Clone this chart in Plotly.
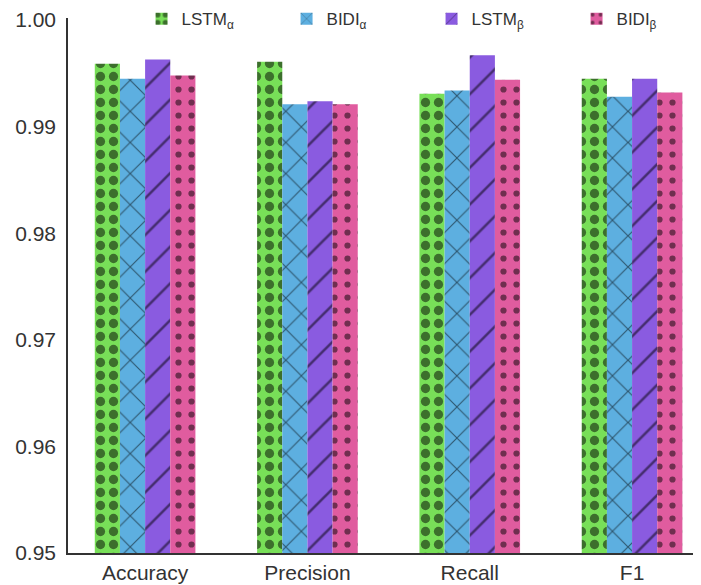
import plotly.graph_objects as go

categories = ["Accuracy", "Precision", "Recall", "F1"]
series_names = ["LSTM<sub>α</sub>", "BIDI<sub>α</sub>", "LSTM<sub>β</sub>", "BIDI<sub>β</sub>"]
lstm_a = [0.9959, 0.9961, 0.9931, 0.9945]
bidi_a = [0.9945, 0.9921, 0.9934, 0.9928]
lstm_b = [0.9963, 0.9924, 0.9967, 0.9945]
bidi_b = [0.9948, 0.9921, 0.9944, 0.9932]
y_ticks = [0.95, 0.96, 0.97, 0.98, 0.99, 1.00]

values = [lstm_a, bidi_a, lstm_b, bidi_b]
colors = ["#78DF58", "#5DAFE0", "#8A5BE0", "#E05C9F"]
shapes = [".", "x", "/", "."]
sizes = [13, 22, 26, 13]
solid = [0.4, 0.1, 0.1, 0.18]

fig = go.Figure()
for name, vals, c, sh, sz, so in zip(series_names, values, colors, shapes, sizes, solid):
    fig.add_trace(go.Bar(
        x=categories, y=vals, name=name,
        marker=dict(color=c, line=dict(width=0),
                    pattern=dict(shape=sh, fgcolor="#000000", bgcolor=c, size=sz, solidity=so)),
    ))

fig.update_layout(
    width=701, height=585,
    barmode="group", bargap=0.38, bargroupgap=0,
    plot_bgcolor="white", paper_bgcolor="white",
    margin=dict(l=60, r=12, t=10, b=40, autoexpand=False),
    font=dict(family="Liberation Sans, Arial, sans-serif", color="#333333"),
    legend=dict(orientation="h", xref="paper", x=0.578, xanchor="center",
                yref="container", y=0.981, yanchor="middle",
                font=dict(size=17), bgcolor="rgba(0,0,0,0)", entrywidth=100),
    xaxis=dict(range=[-0.475, 3.40], showline=True, linecolor="#333333", linewidth=1.5,
               ticks="", tickfont=dict(size=21), showgrid=False, automargin=False),
    yaxis=dict(range=[0.95, 1.0002], tickvals=y_ticks, tickformat=".2f", showline=True,
               linecolor="#333333", linewidth=1.5, ticks="", tickfont=dict(size=21),
               showgrid=False, zeroline=False, automargin=False,
               ticklabeloverflow="allow", ticklabelstandoff=6),
)
fig.write_html("out.html")
